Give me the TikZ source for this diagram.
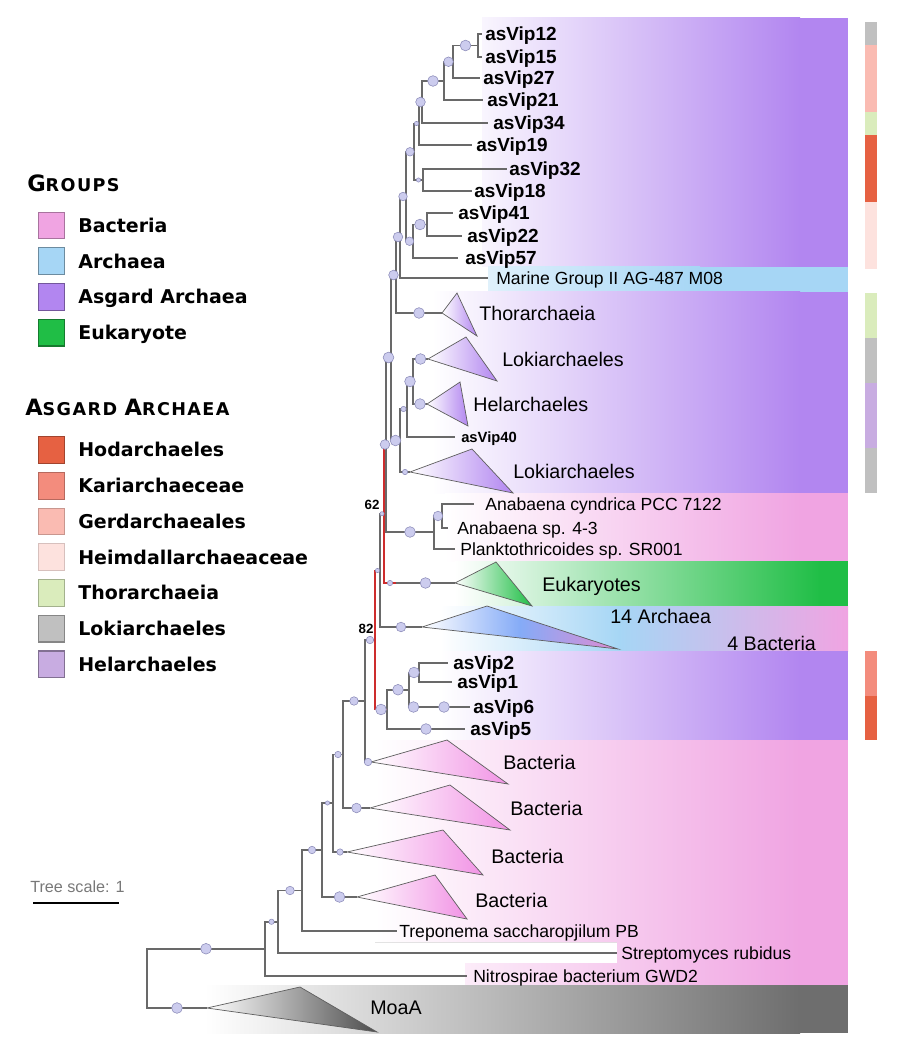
\documentclass[tikz,border=0pt]{standalone}
\usepackage{fontspec}
\setmainfont{Liberation Sans}
\newfontfamily\legfont{DejaVu Sans}
\newfontfamily\headfont[LetterSpace=8]{DejaVu Sans}
\usetikzlibrary{calc,positioning}
\definecolor{treeg}{RGB}{105,105,105}
\definecolor{hlred}{RGB}{205,45,45}
\definecolor{bootf}{RGB}{204,204,238}
\definecolor{bootd}{RGB}{140,140,185}
\definecolor{trid}{RGB}{95,95,95}
\definecolor{asgc}{RGB}{178,134,240}
\definecolor{arcc}{RGB}{166,214,245}
\definecolor{bacc}{RGB}{240,164,226}
\definecolor{eukc}{RGB}{32,190,70}
\definecolor{moac}{RGB}{110,110,110}
\definecolor{hodc}{RGB}{230,97,66}
\definecolor{karc}{RGB}{243,140,125}
\definecolor{gerc}{RGB}{250,187,178}
\definecolor{heic}{RGB}{253,226,222}
\definecolor{thoc}{RGB}{218,236,188}
\definecolor{lokc}{RGB}{192,192,192}
\definecolor{helc}{RGB}{200,172,225}
\definecolor{scaleg}{RGB}{120,120,120}
\def\treeedges{n1215/l12/0/br, n1215/l15/0/br, a1/n1215/5/br, a1/l27/0/br, a2/a1/4.5/br, a2/l21/0/br,
  a3/a2/5/br, a3/l34/0/br, a4/a3/4.5/br, a4/l19/0/br, a5/a4/2/br, a5/b1/2/br, b1/l32/0/br, b1/l18/0/br,
  a6/a5/4/br, a6/c2/4/br, c2/c1/5/br, c2/l57/0/br, c1/l41/0/br, c1/l22/0/br, a7/a6/4/br, a7/lmg/0/br,
  d1/a7/4.5/br, d1/thor/5/br, d2/d1/4.5/br, d2/e1/5/br, e1/f1/2.5/br, e1/loki2/2.5/br, f1/g1/5/br,
  f1/l40/0/br, g1/loki1/5/br, g1/hel/5/br, v1/d2/5/br, v1/an/5/br, an/an2/4.5/br, an/lpl/0/br,
  an2/l7122/0/br, an2/l43/0/br, w/euk/5/br, s2/u1/2/br, s2/arch/4.5/br, t1/t2/5/br, t1/l5/5/br,
  t2/t3/5/br, t2/x6/5/br, x6/l6/5/br, t3/l2/0/br, t3/l1/0/br, r7/s1/3.5/br, r7/bact1/3.5/br,
  r6/r7/4/br, r6/bact2/4.5/br, r5/r6/3/br, r5/bact3/3/br, r4/r5/2/br, r4/bact4/5/br, r3/r4/3.5/br,
  r3/ltr/0/br, r2/r3/4/br, r2/lst/0/br, r1/r2/2.5/br, r1/lni/0/br, root/r1/5/br, root/moaa/5/br,
  u1/v1/4.5/hl, u1/w/2.5/hl, s1/s2/2/hl, s1/t1/5/hl}

\begin{document}
\begin{tikzpicture}[x=0.025cm, y=-0.025cm,
  br/.style={draw=treeg, line width=1.1pt},
  hl/.style={draw=hlred, line width=1.2pt},
  boot/.style={fill=bootf, draw=bootd, line width=0.4pt},
  tri/.style={draw=trid, line width=0.5pt},
  lf/.style={anchor=west, inner sep=0pt, font=\fontsize{12.5}{14}\selectfont, text height=9pt, text depth=0pt},
  av/.style={lf, font=\bfseries\fontsize{13.5}{15}\selectfont, text height=9.7pt},
  cl/.style={lf, font=\fontsize{14}{16}\selectfont, text height=10pt},
  sw/.style={minimum size=19pt, inner sep=0pt, line width=0.8pt},
  lg/.style={anchor=west, inner sep=0pt, font=\legfont\bfseries\fontsize{13.5}{15}\selectfont, text height=9.8pt, text depth=0pt},
  hd/.style={anchor=base west, inner sep=0pt, font=\headfont\bfseries}]
\useasboundingbox (0,0) rectangle (900,1056);

\fill[left color=asgc!8, right color=asgc] (482,18) rectangle (800,267);
\fill[asgc] (799,18) rectangle (848,267);
\fill[left color=arcc!35, right color=arcc] (488,267) rectangle (700,292);
\fill[arcc] (699,267) rectangle (848,292);
\fill[left color=white, right color=asgc] (432,292) rectangle (800,493);
\fill[asgc] (799,292) rectangle (848,493);
\fill[left color=white, right color=bacc] (445,493) rectangle (800,561);
\fill[bacc] (799,493) rectangle (848,561);
\fill[left color=white, right color=eukc] (455,561) rectangle (820,606);
\fill[eukc] (819,561) rectangle (848,606);
\fill[left color=white, right color=arcc] (440,606) rectangle (620,651);
\fill[left color=arcc, right color=bacc] (619,606) rectangle (848,651);
\fill[left color=white, right color=asgc] (440,651) rectangle (800,740);
\fill[asgc] (799,651) rectangle (848,740);
\fill[left color=white, right color=bacc] (375,740) -- (800,740) -- (800,985) -- (465,985) -- (465,963)
  -- (617,963) -- (617,942) -- (375,942) -- cycle;
\fill[bacc] (799,740) rectangle (848,985);
\fill[left color=white, right color=moac] (205,985) rectangle (800,1033);
\fill[moac] (799,985) rectangle (848,1033);

\foreach \a/\b/\c in {22/45/lokc, 45/112/gerc, 112/135/thoc, 135/202/hodc, 202/269/heic, 293/338/thoc,
  338/383/lokc, 383/448/helc, 448/493/lokc, 651/696/karc, 696/740/hodc}
  \fill[\c] (865,\a) rectangle (877,\b);

\coordinate (l12) at (482,34);
\coordinate (l15) at (482,57);
\coordinate (l27) at (480,78);
\coordinate (l21) at (483,100);
\coordinate (l34) at (488,123);
\coordinate (l19) at (472,145);
\coordinate (l32) at (507,169);
\coordinate (l18) at (472,191);
\coordinate (l41) at (453,213);
\coordinate (l22) at (462,236);
\coordinate (l57) at (458,258);
\coordinate (lmg) at (488,278);
\coordinate (l40) at (455,437);
\coordinate (l7122) at (474,504);
\coordinate (l43) at (448,528);
\coordinate (lpl) at (455,549);
\coordinate (l2) at (448,663);
\coordinate (l1) at (452,682);
\coordinate (l6) at (470,707);
\coordinate (l5) at (465,729);
\coordinate (ltr) at (397,931);
\coordinate (lst) at (617,953);
\coordinate (lni) at (467,976);
\coordinate (thor) at (442,313);
\coordinate (loki1) at (428,359);
\coordinate (hel) at (427,404);
\coordinate (loki2) at (410,472);
\coordinate (euk) at (455,583);
\coordinate (arch) at (422,627);
\coordinate (bact1) at (371,762);
\coordinate (bact2) at (370,808);
\coordinate (bact3) at (347,852);
\coordinate (bact4) at (357,897);
\coordinate (moaa) at (207,1008);
\coordinate (n1215) at (478,45.5);
\coordinate (a1) at (453,61.75);
\coordinate (a2) at (444,81);
\coordinate (a3) at (422,102);
\coordinate (a4) at (419,123.5);
\coordinate (b1) at (423,180);
\coordinate (a5) at (414,151.75);
\coordinate (c1) at (427,224.5);
\coordinate (c2) at (413,241.25);
\coordinate (a6) at (406,196.5);
\coordinate (a7) at (400,237);
\coordinate (d1) at (396,275);
\coordinate (g1) at (413,381.5);
\coordinate (f1) at (407,409);
\coordinate (e1) at (400,440.5);
\coordinate (d2) at (391,357.5);
\coordinate (an2) at (442,516);
\coordinate (an) at (434,532);
\coordinate (v1) at (386,444.5);
\coordinate (w) at (396,583);
\coordinate (u1) at (384,513.75);
\coordinate (s2) at (380,570.5);
\coordinate (t3) at (419,672.5);
\coordinate (x6) at (418,707);
\coordinate (t2) at (409,689.75);
\coordinate (t1) at (387,709.5);
\coordinate (s1) at (375,640);
\coordinate (r7) at (365,701);
\coordinate (r6) at (343,754.5);
\coordinate (r5) at (333,803);
\coordinate (r4) at (322,850);
\coordinate (r3) at (302,890.5);
\coordinate (r2) at (278,921.75);
\coordinate (r1) at (265,948.75);
\coordinate (root) at (147,978.5);

\foreach \p/\c/\r/\s in \treeedges
  \draw[\s] (\p) |- (\c);

\draw[tri, left color=white, right color=asgc] (thor) -- (457,293) -- (477,336) -- cycle;
\draw[tri, left color=white, right color=asgc] (loki1) -- (466,337) -- (497,381) -- cycle;
\draw[tri, left color=white, right color=asgc] (hel) -- (460,382) -- (468,426) -- cycle;
\draw[tri, left color=white, right color=asgc] (loki2) -- (472,449) -- (513,493) -- cycle;
\draw[tri, left color=white, right color=eukc] (euk) -- (496,562) -- (532,606) -- cycle;
\draw[tri, left color=white, right color=bacc!85!violet, middle color=arcc!80!blue] (arch) -- (487,606) -- (618,649) -- cycle;
\draw[tri, left color=white, right color=bacc!90!magenta] (bact1) -- (447,740) -- (508,784) -- cycle;
\draw[tri, left color=white, right color=bacc!90!magenta] (bact2) -- (450,785) -- (510,830) -- cycle;
\draw[tri, left color=white, right color=bacc!90!magenta] (bact3) -- (443,830) -- (483,875) -- cycle;
\draw[tri, left color=white, right color=bacc!90!magenta] (bact4) -- (435,875) -- (467,919) -- cycle;
\draw[tri, left color=white, right color=moac!70!black] (moaa) -- (300,987) -- (377,1032) -- cycle;

\foreach \p/\c/\r/\s in \treeedges {
  \ifdim\r pt>0pt \filldraw[boot] ($(\p|-\c)!.5!(\c)$) circle[radius=\r*0.76pt]; \fi
}

\node[av] (t12) at (485,34) {asVip12};
\node[av] (t15) at (485,57) {asVip15};
\node[av] (t27) at (483,78) {asVip27};
\node[av] (t21) at (487,100) {asVip21};
\node[av] (t34) at (493,123) {asVip34};
\node[av] (t19) at (476,145) {asVip19};
\node[av] (t32) at (509,169) {asVip32};
\node[av] (t18) at (474,191) {asVip18};
\node[av] (t41) at (458,213) {asVip41};
\node[av] (t22) at (467,236) {asVip22};
\node[av] (t57) at (465,258) {asVip57};
\node[lf] (tmg) at (496,278) {Marine Group II AG-487 M08};
\node[cl] (tthor) at (479,313) {Thorarchaeia};
\node[cl] (tloki1) at (502,359) {Lokiarchaeles};
\node[cl] (thel) at (473,404) {Helarchaeles};
\node[av, font=\bfseries\fontsize{10.5}{12}\selectfont, text height=7.5pt] (t40) at (461,437) {asVip40};
\node[cl] (tloki2) at (513,471) {Lokiarchaeles};
\node[lf] (t7122) at (485,504) {Anabaena cyndrica PCC 7122};
\node[lf] (t43) at (457,528) {Anabaena sp. 4-3};
\node[lf] (tpl) at (460,549) {Planktothricoides sp. SR001};
\node[cl] (teuk) at (542,584) {Eukaryotes};
\node[cl] (tarch) at (610,616) {14 Archaea};
\node[cl] (tbac4) at (727,643) {4 Bacteria};
\node[av] (t2) at (453,663) {asVip2};
\node[av] (t1) at (457,682) {asVip1};
\node[av] (t6) at (473,707) {asVip6};
\node[av] (t5) at (470,729) {asVip5};
\node[cl] (tbact1) at (503,762) {Bacteria};
\node[cl] (tbact2) at (510,808) {Bacteria};
\node[cl] (tbact3) at (491,856) {Bacteria};
\node[cl] (tbact4) at (475,900) {Bacteria};
\node[lf] (ttr) at (399,931) {Treponema saccharopjilum PB};
\node[lf] (tst) at (621,953) {Streptomyces rubidus};
\node[lf] (tni) at (473,976) {Nitrospirae bacterium GWD2};
\node[cl] (tmoaa) at (370,1007) {MoaA};
\node[inner sep=0pt, font=\bfseries\fontsize{9.5}{10}\selectfont] (bs62) at (372,505) {62};
\node[inner sep=0pt, font=\bfseries\fontsize{9.5}{10}\selectfont] (bs82) at (366,629) {82};

\node[anchor=west, inner sep=0pt, text=scaleg, font=\fontsize{11.5}{13}\selectfont, text height=8.3pt, text depth=0pt] (tscale) at (30,887) {Tree scale: 1};
\coordinate (sc0) at (33,903);
\coordinate (sc1) at (119,903);
\draw[line width=1.8pt] (sc0) -- (sc1);

\node[hd] (hgrp) at (27,192) {\fontsize{16}{16}\selectfont G\fontsize{12.5}{13}\selectfont ROUPS};
\node[sw, fill=bacc, draw=bacc!70!black] (sbac) at (51.5,225.5) {};
\node[sw, fill=arcc, draw=arcc!65!black, below=5.6pt of sbac] (sarc) {};
\node[sw, fill=asgc, draw=asgc!65!black, below=5.6pt of sarc] (sasg) {};
\node[sw, fill=eukc, draw=eukc!65!black, below=5.6pt of sasg] (seuk) {};
\node[lg, right=9pt of sbac] (lbac) {Bacteria};
\node[lg, right=9pt of sarc] (larc) {Archaea};
\node[lg, right=9pt of sasg] (lasg) {Asgard Archaea};
\node[lg, right=9pt of seuk] (leuk) {Eukaryote};

\node[hd] (hasg) at (25,415) {\fontsize{16}{16}\selectfont A\fontsize{12.5}{13}\selectfont SGARD \fontsize{16}{16}\selectfont A\fontsize{12.5}{13}\selectfont RCHAEA};
\node[sw, fill=hodc, draw=hodc!70!black] (shod) at (51.5,450) {};
\node[sw, fill=karc, draw=karc!75!black, below=5.6pt of shod] (skar) {};
\node[sw, fill=gerc, draw=gerc!80!black, below=5.6pt of skar] (sger) {};
\node[sw, fill=heic, draw=heic!85!black, below=5.6pt of sger] (shei) {};
\node[sw, fill=thoc, draw=thoc!75!black, below=5.6pt of shei] (stho) {};
\node[sw, fill=lokc, draw=lokc!70!black, below=5.6pt of stho] (slok) {};
\node[sw, fill=helc, draw=helc!65!black, below=5.6pt of slok] (shel) {};
\node[lg, right=9pt of shod] (lhod) {Hodarchaeles};
\node[lg, right=9pt of skar] (lkar) {Kariarchaeceae};
\node[lg, right=9pt of sger] (lger) {Gerdarchaeales};
\node[lg, right=9pt of shei] (lhei) {Heimdallarchaeaceae};
\node[lg, right=9pt of stho] (ltho) {Thorarchaeia};
\node[lg, right=9pt of slok] (llok) {Lokiarchaeles};
\node[lg, right=9pt of shel] (lhel) {Helarchaeles};
\end{tikzpicture}
\end{document}
